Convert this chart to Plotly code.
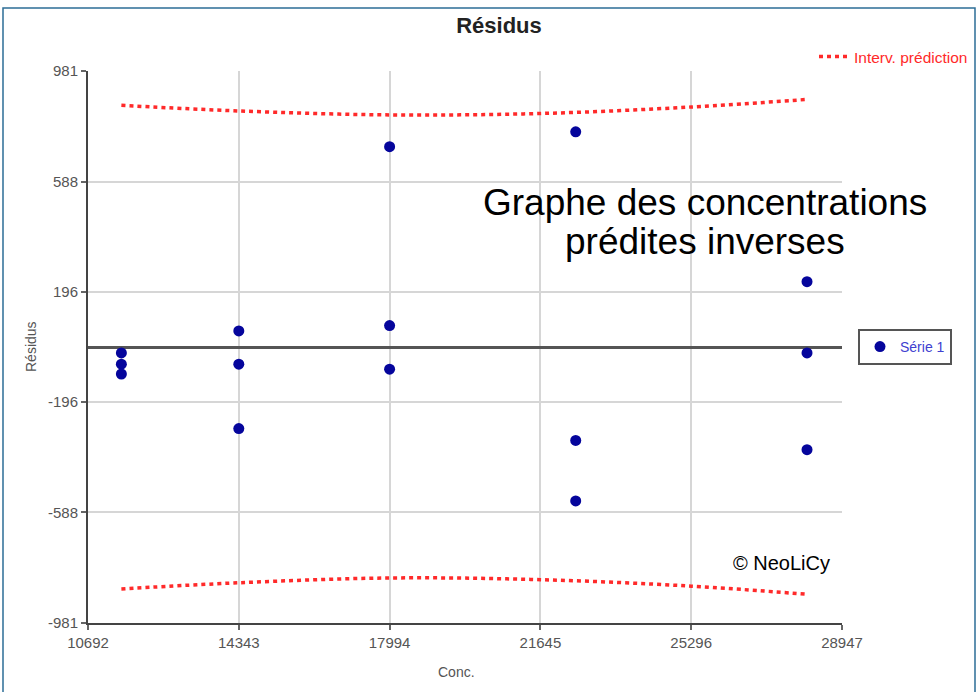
import plotly.graph_objects as go

# Residuals per concentration level
conc = [11500, 11500, 11500,
        14343, 14343, 14343,
        17994, 17994, 17994,
        22500, 22500, 22500,
        28100, 28100, 28100]
residus = [-21, -61, -96,
           57, -61, -290,
           712, 76, -79,
           765, -332, -547,
           232, -21, -365]

# Prediction interval bounds
interval_x = [11500, 14343, 17994, 21645, 25296, 28100]
interval_hi = [859, 839, 825, 830, 853, 880]
interval_lo = [-860, -838, -821, -827, -850, -879]

x_ticks = [10692, 14343, 17994, 21645, 25296, 28947]
y_ticks = [-981, -588, -196, 196, 588, 981]

FONT = "Liberation Sans, Arial, sans-serif"
RED = "#ff2a2a"
BLUE = "#05059c"

fig = go.Figure()

fig.add_trace(go.Scatter(
    x=interval_x, y=interval_hi, mode="lines", name="Interv. prédiction",
    line=dict(color=RED, width=3.5, dash="4px,4px", shape="spline"),
    legendgroup="pi", legend="legend",
))
fig.add_trace(go.Scatter(
    x=interval_x, y=interval_lo, mode="lines", name="Interv. prédiction",
    line=dict(color=RED, width=3.5, dash="4px,4px", shape="spline"),
    legendgroup="pi", showlegend=False,
))
fig.add_trace(go.Scatter(
    x=conc, y=residus, mode="markers", name="Série 1",
    marker=dict(color=BLUE, size=11, line=dict(width=0)),
    legend="legend2",
))

# plot area: x 88..842 px, y 71..623 px
PL, PR, PT, PB = 88, 842, 71, 623
W, H = PR - PL, PB - PT


def px(x):
    return (x - PL) / W


def py(y):
    return (PB - y) / H


fig.update_layout(
    width=978, height=692,
    margin=dict(l=PL, r=978 - PR, t=PT, b=692 - PB, autoexpand=False),
    paper_bgcolor="white", plot_bgcolor="white",
    font=dict(family=FONT, color="#555555", size=14),
    title=dict(text="<b>Résidus</b>", x=499 / 978, y=1 - 25 / 692,
               xanchor="center", yanchor="middle", xref="container", yref="container",
               font=dict(size=22, color="#222222", family=FONT)),
    xaxis=dict(
        range=[x_ticks[0], x_ticks[-1]], tickvals=x_ticks,
        ticktext=[str(v) for v in x_ticks],
        showgrid=True, gridcolor="#d6d6d6", gridwidth=1.5,
        showline=True, linecolor="#444444", linewidth=2,
        ticks="outside", ticklen=5, tickcolor="#666666", tickwidth=1.5,
        tickfont=dict(size=15, color="#555555"),
        zeroline=False,
    ),
    yaxis=dict(
        range=[y_ticks[0], y_ticks[-1]], tickvals=y_ticks,
        ticktext=[str(v) for v in y_ticks],
        showgrid=True, gridcolor="#d6d6d6", gridwidth=1.5,
        showline=True, linecolor="#444444", linewidth=2,
        ticks="outside", ticklen=5, tickcolor="#666666", tickwidth=1.5,
        tickfont=dict(size=15, color="#555555"),
        zeroline=True, zerolinecolor="#555555", zerolinewidth=3,
    ),
    legend=dict(
        x=px(814), y=py(57), xanchor="left", yanchor="middle",
        bgcolor="rgba(0,0,0,0)", borderwidth=0,
        font=dict(size=15.5, color=RED, family=FONT),
    ),
    legend2=dict(
        x=px(858), y=py(347), xanchor="left", yanchor="middle",
        bgcolor="white", bordercolor="#555555", borderwidth=2,
        itemwidth=30,
        font=dict(size=14, color="#4040d0", family=FONT),
    ),
    shapes=[
        # outer frame
        dict(type="rect", xref="paper", yref="paper",
             x0=px(3), x1=px(975), y0=py(700), y1=py(8),
             line=dict(color="#2d6e96", width=1.5), fillcolor="rgba(0,0,0,0)"),
        # caption panel
        dict(type="rect", xref="paper", yref="paper",
             x0=px(457), x1=px(955), y0=py(277), y1=py(163),
             line=dict(width=0), fillcolor="white", layer="between"),
    ],
    annotations=[
        # axis titles
        dict(text="Conc.", xref="paper", yref="paper",
             x=px(456), y=py(672), xanchor="center", yanchor="middle",
             showarrow=False, font=dict(size=14, color="#555555", family=FONT)),
        dict(text="Résidus", xref="paper", yref="paper", textangle=-90,
             x=px(31), y=py(347), xanchor="center", yanchor="middle",
             showarrow=False, font=dict(size=14, color="#555555", family=FONT)),
        # caption
        dict(text="Graphe des concentrations", xref="paper", yref="paper",
             x=px(705), y=py(202), xanchor="center", yanchor="middle",
             showarrow=False, font=dict(size=37, color="black", family=FONT)),
        dict(text="prédites inverses", xref="paper", yref="paper",
             x=px(705), y=py(241), xanchor="center", yanchor="middle",
             showarrow=False, font=dict(size=37, color="black", family=FONT)),
        dict(text="© NeoLiCy", xref="paper", yref="paper",
             x=px(781), y=py(563), xanchor="center", yanchor="middle",
             showarrow=False, font=dict(size=20, color="black", family=FONT)),
    ],
    showlegend=True,
)

fig.write_html("out.html")
